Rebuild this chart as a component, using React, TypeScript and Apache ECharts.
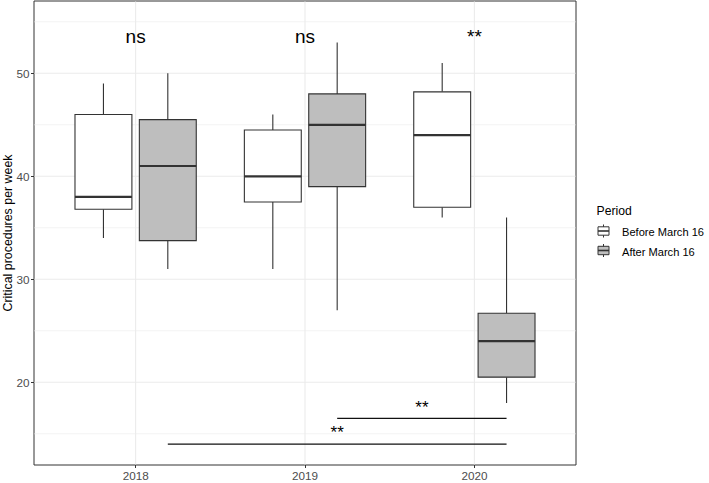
import { useEffect, useRef } from "react";
import * as echarts from "echarts";

// ---------- data ----------
const years = ["2018", "2019", "2020"];
const yearValues = [2018, 2019, 2020];
const periods = ["Before March 16", "After March 16"];
// [lower whisker, Q1, median, Q3, upper whisker]
const beforeStats = [
  [34, 36.8, 38, 46, 49],
  [31, 37.5, 40, 44.5, 46],
  [36, 37, 44, 48.2, 51],
];
const afterStats = [
  [31, 33.75, 41, 45.5, 50],
  [27, 39, 45, 48, 53],
  [18, 20.5, 24, 26.7, 36],
];
const yTicks = [20, 30, 40, 50];
const yMinorTicks = [15, 25, 35, 45, 55];
const topLabels = ["ns", "ns", "**"];
const bracketFromYear = [2018, 2019];
const bracketToYear = [2020, 2020];
const bracketY = [14, 16.5];
const bracketLabels = ["**", "**"];

// ---------- style constants ----------
const FONT = "'Liberation Sans', Arial, Helvetica, sans-serif";
const DODGE = 0.19;
const HALF = 0.168;
const TOP_LABEL_Y = 53.6;
const BRACKET_LABEL_GAP = 1.1;
const fills = ["#FFFFFF", "#BEBEBE"];
const X_MIN = 2017.4;
const X_MAX = 2020.6;
const Y_MIN = 11.97;
const Y_MAX = 57.02;

function boxRender(offset: number, fill: string) {
  return (params: any, api: any) => {
    const x = api.value(0) + offset;
    const lo = api.coord([x, api.value(1)]);
    const q1 = api.coord([x, api.value(2)]);
    const med = api.coord([x, api.value(3)]);
    const q3 = api.coord([x, api.value(4)]);
    const hi = api.coord([x, api.value(5)]);
    const left = api.coord([x - HALF, api.value(3)])[0];
    const right = api.coord([x + HALF, api.value(3)])[0];
    const cx = lo[0];
    const stroke = "#333333";
    return {
      type: "group",
      children: [
        { type: "line", shape: { x1: cx, y1: hi[1], x2: cx, y2: q3[1] }, style: { stroke, lineWidth: 1.1 } },
        { type: "line", shape: { x1: cx, y1: q1[1], x2: cx, y2: lo[1] }, style: { stroke, lineWidth: 1.1 } },
        {
          type: "rect",
          shape: { x: left, y: q3[1], width: right - left, height: q1[1] - q3[1] },
          style: { fill, stroke, lineWidth: 1.1 },
        },
        { type: "line", shape: { x1: left, y1: med[1], x2: right, y2: med[1] }, style: { stroke, lineWidth: 2.2 } },
      ],
    };
  };
}

function hLineRender(color: string, width: number) {
  return (params: any, api: any) => {
    const cs = params.coordSys;
    const y = api.coord([X_MIN, api.value(1)])[1];
    return {
      type: "line",
      shape: { x1: cs.x + 0.5, y1: y, x2: cs.x + cs.width - 0.5, y2: y },
      style: { stroke: color, lineWidth: width },
    };
  };
}

function vLineRender(color: string, width: number) {
  return (params: any, api: any) => {
    const cs = params.coordSys;
    const x = api.coord([api.value(0), Y_MIN])[0];
    return {
      type: "line",
      shape: { x1: x, y1: cs.y + 0.5, x2: x, y2: cs.y + cs.height - 0.5 },
      style: { stroke: color, lineWidth: width },
    };
  };
}

export default function App() {
  const ref = useRef<HTMLDivElement>(null);
  useEffect(() => {
    document.body.style.margin = "0";
    const chart = echarts.init(ref.current!, null, { renderer: "svg" });

    const legendGraphics: any[] = [
      {
        type: "text",
        x: 596.5,
        y: 210.8,
        style: { text: "Period", fontSize: 12.2, fontFamily: FONT, fill: "#000", align: "left", verticalAlign: "middle" },
      },
    ];
    periods.forEach((p, i) => {
      const cy = 231 + i * 19.5;
      legendGraphics.push(
        { type: "line", shape: { x1: 603.5, y1: cy - 6.5, x2: 603.5, y2: cy + 6.5 }, style: { stroke: "#333", lineWidth: 1 } },
        { type: "rect", shape: { x: 598, y: cy - 4.2, width: 11, height: 8.4 }, style: { fill: fills[i], stroke: "#333", lineWidth: 1 } },
        { type: "line", shape: { x1: 598, y1: cy, x2: 609, y2: cy }, style: { stroke: "#333", lineWidth: 1.6 } },
        {
          type: "text",
          x: 622,
          y: cy + 1,
          style: { text: p, fontSize: 11.1, fontFamily: FONT, fill: "#000", align: "left", verticalAlign: "middle" },
        }
      );
    });

    chart.setOption({
      animation: false,
      backgroundColor: "#ffffff",
      grid: {
        left: 34,
        top: 1,
        right: 133,
        bottom: 18,
        show: true,
        borderColor: "#333333",
        borderWidth: 1,
        backgroundColor: "#ffffff",
        containLabel: false,
        outerBoundsMode: "none",
      },
      xAxis: {
        type: "value",
        min: X_MIN,
        max: X_MAX,
        axisLine: { show: false },
        splitLine: { show: false },
        axisTick: { show: true, length: 3, lineStyle: { color: "#333333", width: 1 }, customValues: yearValues },
        axisLabel: {
          customValues: yearValues,
          formatter: (v: number) => years[yearValues.indexOf(Math.round(v))] ?? "",
          color: "#4D4D4D",
          fontSize: 11.7,
          fontFamily: FONT,
          margin: 4,
        },
      },
      yAxis: {
        type: "value",
        min: Y_MIN,
        max: Y_MAX,
        axisLine: { show: false },
        splitLine: { show: false },
        axisTick: { show: true, length: 3, lineStyle: { color: "#333333", width: 1 }, customValues: yTicks },
        axisLabel: {
          customValues: yTicks,
          formatter: (v: number) => String(Math.round(v)),
          color: "#4D4D4D",
          fontSize: 11.7,
          fontFamily: FONT,
          margin: 4.5,
        },
      },
      graphic: [
        {
          type: "text",
          x: 8,
          y: 233,
          rotation: Math.PI / 2,
          style: {
            text: "Critical procedures per week",
            fontSize: 12.4,
            fontFamily: FONT,
            fill: "#000",
            align: "center",
            verticalAlign: "middle",
          },
        },
        ...legendGraphics,
      ],
      series: [
        {
          type: "custom",
          name: "minorGrid",
          silent: true,
          z: 0,
          data: yMinorTicks.map((v) => [X_MIN, v]),
          renderItem: hLineRender("#F3F3F3", 1),
        },
        {
          type: "custom",
          name: "majorGridH",
          silent: true,
          z: 0,
          data: yTicks.map((v) => [X_MIN, v]),
          renderItem: hLineRender("#EBEBEB", 1.1),
        },
        {
          type: "custom",
          name: "majorGridV",
          silent: true,
          z: 0,
          data: yearValues.map((v) => [v, Y_MIN]),
          renderItem: vLineRender("#EBEBEB", 1.1),
        },
        {
          type: "custom",
          name: periods[0],
          z: 2,
          data: yearValues.map((y, i) => [y, ...beforeStats[i]]),
          renderItem: boxRender(-DODGE, fills[0]),
        },
        {
          type: "custom",
          name: periods[1],
          z: 2,
          data: yearValues.map((y, i) => [y, ...afterStats[i]]),
          renderItem: boxRender(DODGE, fills[1]),
        },
        {
          type: "custom",
          name: "topLabels",
          z: 3,
          data: yearValues.map((y, i) => [y, TOP_LABEL_Y, i]),
          renderItem: (params: any, api: any) => {
            const p = api.coord([api.value(0), api.value(1)]);
            return {
              type: "text",
              x: p[0],
              y: p[1],
              style: {
                text: topLabels[api.value(2)],
                fontSize: 19,
                fontFamily: FONT,
                fill: "#000",
                align: "center",
                verticalAlign: "middle",
              },
            };
          },
        },
        {
          type: "custom",
          name: "brackets",
          z: 3,
          data: bracketY.map((y, i) => [bracketFromYear[i] + DODGE, y, bracketToYear[i] + DODGE, i]),
          renderItem: (params: any, api: any) => {
            const a = api.coord([api.value(0), api.value(1)]);
            const b = api.coord([api.value(2), api.value(1)]);
            const mid = (api.value(0) + api.value(2)) / 2;
            const t = api.coord([mid, api.value(1) + BRACKET_LABEL_GAP]);
            return {
              type: "group",
              children: [
                { type: "line", shape: { x1: a[0], y1: a[1], x2: b[0], y2: b[1] }, style: { stroke: "#111", lineWidth: 1.2 } },
                {
                  type: "text",
                  x: t[0],
                  y: t[1],
                  style: {
                    text: bracketLabels[api.value(3)],
                    fontSize: 17,
                    fontFamily: FONT,
                    fill: "#000",
                    align: "center",
                    verticalAlign: "middle",
                  },
                },
              ],
            };
          },
        },
      ],
    });
    return () => chart.dispose();
  }, []);
  return <div ref={ref} style={{ position: "absolute", left: 0, top: 0, width: 709, height: 483 }} />;
}
